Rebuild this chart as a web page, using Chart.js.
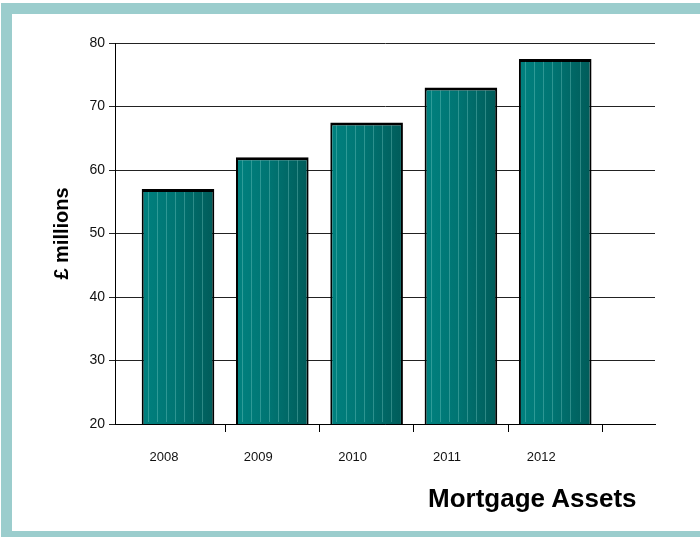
<!DOCTYPE html>
<html lang="en">
<head>
    <meta charset="UTF-8">
    <title>Mortgage Assets</title>
    <script src="https://cdn.jsdelivr.net/npm/chart.js"></script>
    <style>
        body {
            margin: 0;
            background: #fff;
            overflow: hidden;
            font-family: "Liberation Sans", Arial, sans-serif;
        }
        .frame {
            position: absolute;
            left: 1px;
            top: 3px;
            width: 760px;
            height: 539px;
            box-sizing: border-box;
            border: 11px solid #9bcdcd;
        }
        .chart-container {
            position: absolute;
            left: 0;
            top: 0;
            width: 700px;
            height: 537px;
        }
        .caption {
            position: absolute;
            left: 428px;
            top: 483px;
            font-size: 26px;
            line-height: 30px;
            font-weight: bold;
            color: #000;
            white-space: nowrap;
        }
    </style>
</head>
<body>
    <div class="frame"></div>
    <div class="chart-container">
        <canvas id="assetsChart"></canvas>
    </div>
    <div class="caption">Mortgage Assets</div>

    <script>
        const years = ["2008", "2009", "2010", "2011", "2012"];
        const assets = [57, 62, 67.5, 73, 77.5];
        const yTicks = [20, 30, 40, 50, 60, 70, 80];

        const BAR_PCT = 0.77;
        const FONT = '"Liberation Sans", Arial, sans-serif';

        // horizontal shading across each bar so it reads like a rounded column
        const barFill = (c) => {
            const xs = c.chart.scales.x;
            if (!xs || c.dataIndex === undefined) return '#007270';
            const cx = xs.getPixelForValue(c.dataIndex);
            const half = (xs.getPixelForValue(1) - xs.getPixelForValue(0)) * BAR_PCT / 2;
            if (!Number.isFinite(cx) || !Number.isFinite(half) || half <= 0) return '#007270';
            const g = c.chart.ctx.createLinearGradient(cx - half, 0, cx + half, 0);
            g.addColorStop(0, '#00817f');
            g.addColorStop(0.45, '#007573');
            g.addColorStop(1, '#005b59');
            return g;
        };

        // faint vertical facets on the columns
        const facets = {
            id: 'facets',
            afterDatasetDraw(chart) {
                const ctx = chart.ctx;
                const bottom = chart.chartArea.bottom;
                chart.getDatasetMeta(0).data.forEach((bar) => {
                    const { x, y, base, width } = bar.getProps(['x', 'y', 'base', 'width'], true);
                    const foot = Math.min(base, bottom) - 2;
                    ctx.save();
                    ctx.strokeStyle = 'rgba(150, 225, 220, 0.3)';
                    ctx.lineWidth = 1;
                    for (let k = 1; k < 8; k++) {
                        const px = Math.round(x - width / 2 + width * k / 8 - width * 0.04) + 0.5;
                        ctx.beginPath();
                        ctx.moveTo(px, y + 3);
                        ctx.lineTo(px, foot);
                        ctx.stroke();
                    }
                    ctx.restore();
                });
            }
        };

        new Chart(document.getElementById('assetsChart'), {
            type: 'bar',
            data: {
                datasets: [{
                    data: assets.map((v, i) => ({ x: i, y: v })),
                    backgroundColor: barFill,
                    borderColor: '#000',
                    borderWidth: { top: 3, left: 2, right: 2, bottom: 2 },
                    borderSkipped: false,
                    categoryPercentage: 1,
                    barPercentage: BAR_PCT
                }]
            },
            options: {
                responsive: true,
                maintainAspectRatio: false,
                animation: false,
                layout: {
                    padding: { top: 43, right: 45, bottom: 0, left: 0 }
                },
                plugins: {
                    legend: { display: false },
                    tooltip: { enabled: false }
                },
                scales: {
                    x: {
                        type: 'linear',
                        offset: false,
                        min: -0.668,
                        max: 5.058,
                        afterFit: (scale) => { scale.height = 113; },
                        ticks: {
                            stepSize: 1,
                            includeBounds: false,
                            autoSkip: false,
                            maxRotation: 0,
                            padding: 18,
                            labelOffset: -14,
                            color: '#111',
                            font: { family: FONT, size: 13 },
                            callback: (v) => years[v] || ''
                        },
                        grid: {
                            offset: true,
                            drawOnChartArea: false,
                            tickLength: 8,
                            color: (c) => c.index === 0 ? 'rgba(0,0,0,0)' : '#000'
                        },
                        border: { display: true, color: '#000', width: 1 }
                    },
                    y: {
                        min: yTicks[0],
                        max: yTicks[yTicks.length - 1],
                        afterFit: (scale) => { scale.width = 115; },
                        afterBuildTicks: (scale) => {
                            scale.ticks = yTicks.map((v) => ({ value: v }));
                        },
                        ticks: {
                            padding: 4,
                            color: '#111',
                            font: { family: FONT, size: 14 }
                        },
                        grid: {
                            color: '#222',
                            lineWidth: 1,
                            tickLength: 6
                        },
                        border: { display: true, color: '#000', width: 1 },
                        title: {
                            display: true,
                            text: '£ millions',
                            color: '#000',
                            font: { family: FONT, size: 20, weight: 'bold' },
                            padding: { top: 50, bottom: 0 }
                        }
                    }
                }
            },
            plugins: [facets]
        });
    </script>
</body>
</html>
